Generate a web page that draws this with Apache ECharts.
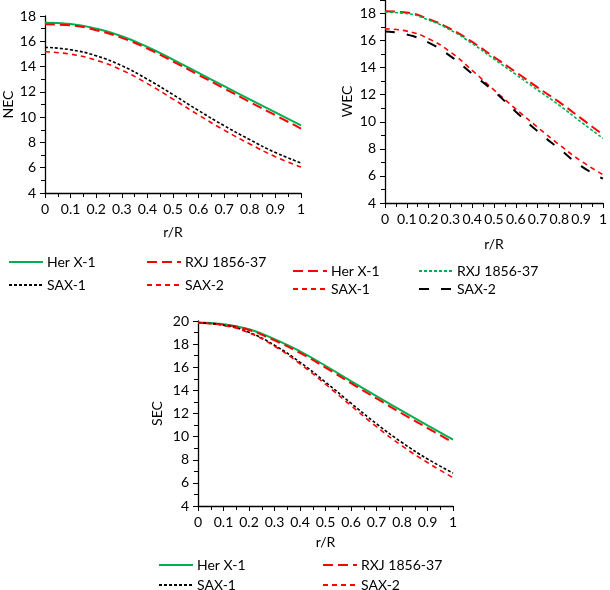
<!DOCTYPE html>
<html>
<head>
<meta charset="utf-8">
<script src="https://cdn.jsdelivr.net/npm/echarts@6/dist/echarts.min.js"></script>
<style>
html,body{margin:0;padding:0;background:#fff;}
#chart{width:610px;height:590px;}
</style>
</head>
<body>
<div id="chart"></div>
<script>
// r/R samples
var rR = [0, 0.1, 0.2, 0.3, 0.4, 0.5, 0.6, 0.7, 0.8, 0.9, 1];

// NEC
var necHer  = [17.47, 17.37, 17.0, 16.4, 15.55, 14.55, 13.5, 12.45, 11.4, 10.37, 9.35];
var necRxj  = [17.35, 17.26, 16.88, 16.27, 15.42, 14.4, 13.34, 12.27, 11.2, 10.15, 9.1];
var necSax1 = [15.52, 15.33, 14.85, 14.07, 13.0, 11.78, 10.52, 9.32, 8.22, 7.2, 6.38];
var necSax2 = [15.17, 14.98, 14.5, 13.72, 12.65, 11.43, 10.17, 8.97, 7.88, 6.87, 6.06];

// WEC
var wecHer  = [18.17, 18.07, 17.6, 16.87, 15.9, 14.79, 13.68, 12.54, 11.45, 10.25, 9.05];
var wecRxj  = [18.1, 18.0, 17.52, 16.78, 15.78, 14.64, 13.5, 12.35, 11.22, 9.98, 8.78];
var wecSax1 = [16.87, 16.7, 16.14, 15.16, 13.8, 12.35, 10.95, 9.6, 8.3, 7.1, 6.1];
var wecSax2 = [16.68, 16.45, 15.85, 14.85, 13.55, 12.25, 10.75, 9.3, 8.0, 6.72, 5.8];

// SEC
var secHer  = [19.86, 19.71, 19.28, 18.43, 17.38, 16.13, 14.8, 13.5, 12.22, 10.97, 9.75];
var secRxj  = [19.84, 19.68, 19.22, 18.32, 17.24, 15.97, 14.62, 13.3, 12.0, 10.74, 9.5];
var secSax1 = [19.84, 19.64, 19.02, 17.9, 16.43, 14.71, 12.89, 11.11, 9.49, 8.07, 6.85];
var secSax2 = [19.82, 19.61, 18.97, 17.82, 16.3, 14.53, 12.68, 10.86, 9.2, 7.76, 6.45];

var labels = {
  necHer:'Her X-1', necRxj:'RXJ 1856-37', necSax1:'SAX-1', necSax2:'SAX-2',
  wecHer:'Her X-1', wecRxj:'RXJ 1856-37', wecSax1:'SAX-1', wecSax2:'SAX-2',
  secHer:'Her X-1', secRxj:'RXJ 1856-37', secSax1:'SAX-1', secSax2:'SAX-2'
};

var GREEN = '#00b050', RED = '#ff0000', BLACK = '#000000';
var FONT = 'Lato';

function line(id, g, ys, color, dash, w){
  return {
    id: id, name: id, type: 'line',
    xAxisIndex: g, yAxisIndex: g,
    data: rR.map(function(x, i){ return [x, ys[i]]; }),
    smooth: true, symbol: 'none',
    lineStyle: {color: color, width: w, type: dash},
    itemStyle: {color: color},
    emphasis: {disabled: true}
  };
}

function xAx(g, gap){
  return {
    type:'value', gridIndex:g, min:0, max:1, interval:0.1,
    name:'r/R', nameLocation:'middle', nameGap:gap,
    nameTextStyle:{color:'#000', fontSize:14, fontFamily:FONT},
    axisLine:{onZero:false, lineStyle:{color:'#000', width:1.3}},
    axisTick:{length:5, lineStyle:{color:'#000'}},
    minorTick:{show:true, splitNumber:2, length:4, lineStyle:{color:'#000'}},
    splitLine:{show:false},
    axisLabel:{color:'#000', fontSize:14, fontFamily:FONT, margin:9}
  };
}

function yAx(g, name, max, gap){
  return {
    type:'value', gridIndex:g, min:4, max:max, interval:2,
    name:name, nameLocation:'middle', nameGap:gap,
    nameTextStyle:{color:'#000', fontSize:14, fontFamily:FONT},
    axisLine:{show:true, onZero:false, lineStyle:{color:'#000', width:1.3}},
    axisTick:{show:true, length:5, lineStyle:{color:'#000'}},
    minorTick:{show:true, splitNumber:2, length:4, lineStyle:{color:'#000'}},
    splitLine:{show:false},
    axisLabel:{color:'#000', fontSize:14, fontFamily:FONT, margin:9, showMaxLabel: max % 2 === 0}
  };
}

function leg(id, left, top){
  return {
    data:[id], left:left, top:top, orient:'horizontal',
    itemWidth:34, itemHeight:14, itemGap:4, padding:0,
    selectedMode:false,
    // line only, no marker
    itemStyle:{color:'rgba(0,0,0,0)', borderWidth:0, borderColor:'rgba(0,0,0,0)'},
    formatter:function(n){ return labels[n]; },
    textStyle:{color:'#000', fontSize:14, fontFamily:FONT, padding:[0,0,0,-1]}
  };
}

var option = {
  animation:false,
  backgroundColor:'#fff',
  grid:[
    {left:45, top:16, width:256, height:177},
    {left:385, top:0, width:221, height:203},
    {left:198, top:321, width:255, height:185}
  ],
  xAxis:[xAx(0, 32), xAx(1, 34), xAx(2, 29)],
  yAxis:[yAx(0, 'NEC', 18, 30), yAx(1, 'WEC', 19, 31), yAx(2, 'SEC', 20, 34)],
  legend:[
    leg('necHer', 8, 255), leg('necRxj', 146, 255),
    leg('necSax1', 8, 278), leg('necSax2', 146, 278),
    leg('wecHer', 292, 264), leg('wecRxj', 418, 264),
    leg('wecSax1', 292, 282), leg('wecSax2', 418, 282),
    leg('secHer', 158, 558), leg('secRxj', 322, 558),
    leg('secSax1', 158, 578), leg('secSax2', 322, 578)
  ],
  series:[
    line('necHer', 0, necHer, GREEN, 'solid', 2),
    line('necRxj', 0, necRxj, RED, [10, 5], 2),
    line('necSax1', 0, necSax1, BLACK, [3, 2], 1.6),
    line('necSax2', 0, necSax2, RED, [5, 4], 1.6),

    line('wecHer', 1, wecHer, RED, [10, 5], 2),
    line('wecRxj', 1, wecRxj, GREEN, [3, 2], 1.6),
    line('wecSax1', 1, wecSax1, RED, [5, 4], 1.6),
    line('wecSax2', 1, wecSax2, BLACK, [10, 12], 2),

    line('secHer', 2, secHer, GREEN, 'solid', 2),
    line('secRxj', 2, secRxj, RED, [10, 5], 2),
    line('secSax1', 2, secSax1, BLACK, [3, 2], 1.6),
    line('secSax2', 2, secSax2, RED, [5, 4], 1.6)
  ]
};

var myChart = echarts.init(document.getElementById('chart'));
myChart.setOption(option);
</script>
</body>
</html>
